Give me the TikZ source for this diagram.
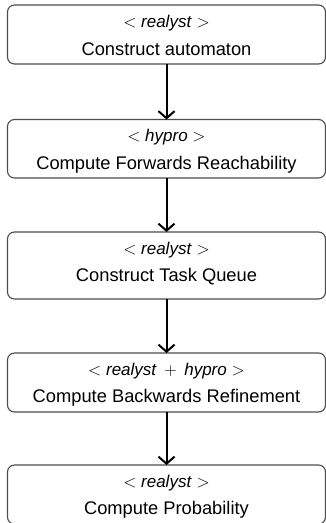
\documentclass[tikz,border=0pt]{standalone}
\usepackage{fontspec}
\setmainfont{Liberation Sans}
\usetikzlibrary{arrows.meta}
\begin{document}
\begin{tikzpicture}[x=1pt,y=1pt,
  box/.style={draw=black!70, line width=1.1pt, rounded corners=7pt, minimum width=318pt, inner sep=0pt, outer sep=0pt, anchor=north},
  lbl/.style={anchor=base, inner sep=0pt, font=\fontsize{17}{20}\selectfont},
  txt/.style={anchor=base, inner sep=0pt, font=\fontsize{18.3}{22}\selectfont},
  flow/.style={line width=2pt, -{Straight Barb[length=7pt,width=16pt]}}]
\useasboundingbox (0,0) rectangle (326,-523);
\clip (0,0) rectangle (326,-523);

\node[box, minimum height=59pt] (b1) at (166.5,-5) {};
\node[lbl] (l1) at (166.5,-27) {$<$ \textit{realyst} $>$};
\node[txt] (t1) at (166.5,-55) {Construct automaton};

\node[box, minimum height=58.5pt] (b2) at (166.5,-119.5) {};
\node[lbl] (l2) at (166.5,-141.5) {$<$ \textit{hypro} $>$};
\node[txt] (t2) at (166.5,-169) {Compute Forwards Reachability};

\node[box, minimum height=67pt] (b3) at (166.5,-232) {};
\node[lbl] (l3) at (166.5,-254) {$<$ \textit{realyst} $>$};
\node[txt] (t3) at (166.5,-281.5) {Construct Task Queue};

\node[box, minimum height=59pt] (b4) at (166.5,-353) {};
\node[lbl] (l4) at (166.5,-375) {$<$ \textit{realyst} \,$+$\, \textit{hypro} $>$};
\node[txt] (t4) at (166.5,-402) {Compute Backwards Refinement};

\node[box, minimum height=59pt] (b5) at (166.5,-465) {};
\node[lbl] (l5) at (166.5,-487) {$<$ \textit{realyst} $>$};
\node[txt] (t5) at (166.5,-514.5) {Compute Probability};

\draw[flow] (b1.south) -- (b2.north);
\draw[flow] (b2.south) -- (b3.north);
\draw[flow] (b3.south) -- (b4.north);
\draw[flow] (b4.south) -- (b5.north);
\end{tikzpicture}
\end{document}
